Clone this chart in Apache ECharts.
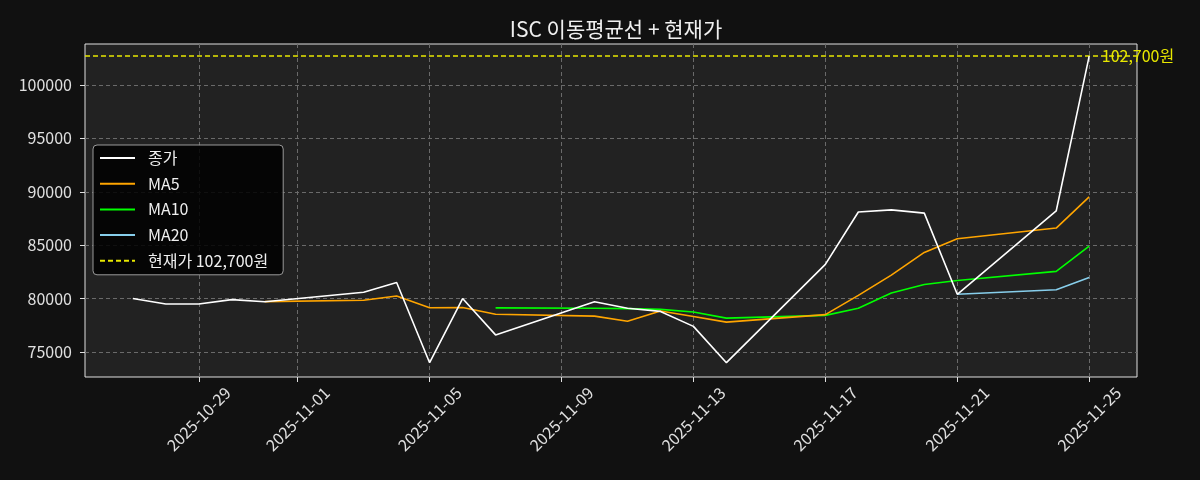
<!DOCTYPE html>
<html>
<head>
<meta charset="utf-8">
<script src="https://cdn.jsdelivr.net/npm/echarts@6/dist/echarts.min.js"></script>
<style>
html,body{margin:0;padding:0;background:#111111;}
#chart{width:1200px;height:480px;}
</style>
</head>
<body>
<div id="chart"></div>
<script>
const dates = ['2025-10-27','2025-10-28','2025-10-29','2025-10-30','2025-10-31',
  '2025-11-03','2025-11-04','2025-11-05','2025-11-06','2025-11-07',
  '2025-11-10','2025-11-11','2025-11-12','2025-11-13','2025-11-14',
  '2025-11-17','2025-11-18','2025-11-19','2025-11-20','2025-11-21',
  '2025-11-24','2025-11-25'];
const close = [80000,79500,79500,79900,79700,80600,81500,74000,80000,76600,
  79700,79100,78800,77400,74000,83200,88100,88300,88000,80400,88200,102700];
const ma5 = [null,null,null,null,79720,79840,80240,79140,79160,78540,
  78360,77880,78840,78320,77800,78500,80300,82200,84320,85600,86600,89520];
const ma10 = [null,null,null,null,null,null,null,null,null,79130,
  79100,79060,78990,78740,78170,78430,79090,80520,81320,81700,82550,84910];
const ma20 = [null,null,null,null,null,null,null,null,null,null,
  null,null,null,null,null,null,null,null,null,80410,80820,81980];
const currentPrice = 102700;
const xTickLabels = ['2025-10-29','2025-11-01','2025-11-05','2025-11-09','2025-11-13','2025-11-17','2025-11-21','2025-11-25'];
const yTickValues = [75000,80000,85000,90000,95000,100000];

function ts(s){ const p = s.split('-').map(Number); return Date.UTC(p[0], p[1]-1, p[2]); }
function pad(n){ return (n<10?'0':'')+n; }
function fmt(v){ const d = new Date(Math.round(v)); return d.getUTCFullYear()+'-'+pad(d.getUTCMonth()+1)+'-'+pad(d.getUTCDate()); }
function pairs(arr){ const out=[]; arr.forEach((v,i)=>{ if(v!==null) out.push([ts(dates[i]), v]); }); return out; }

const x0 = ts(dates[0]), x1 = ts(dates[dates.length-1]);
const xpad = (x1-x0)*0.05;
const FONT = '"Noto Sans CJK KR", "Noto Sans", sans-serif';

const chart = echarts.init(document.getElementById('chart'), null, {renderer:'canvas'});
const lineBase = {type:'line', symbol:'none', showSymbol:false, emphasis:{disabled:true}, animation:false};
chart.setOption({
  backgroundColor:'#111111',
  animation:false,
  textStyle:{fontFamily:FONT},
  title:{text:'ISC 이동평균선 + 현재가', left:611, textAlign:'center', top:14,
    textStyle:{color:'#f0f0f0', fontSize:21, fontWeight:'normal', fontFamily:FONT}},
  grid:{left:85, right:63, top:44, bottom:103, show:true, backgroundColor:'#222222', borderColor:'#e0e0e0', borderWidth:1},
  legend:{orient:'vertical', left:93, top:145, backgroundColor:'rgba(0,0,0,0.85)', borderColor:'#9a9a9a', borderWidth:1,
    borderRadius:4, padding:[5,15,6,6], itemWidth:35, itemHeight:16, itemGap:9.7,
    itemStyle:{color:'rgba(0,0,0,0)', borderWidth:0, opacity:0},
    textStyle:{color:'#f0f0f0', fontSize:16, fontFamily:FONT, padding:[0,0,0,8]},
    data:['종가','MA5','MA10','MA20','현재가 102,700원']},
  xAxis:{type:'value', min:x0-xpad, max:x1+xpad, scale:true,
    axisLine:{show:false},
    axisTick:{show:true, length:5, lineStyle:{color:'#e0e0e0'}, customValues:xTickLabels.map(ts)},
    axisLabel:{color:'#e0e0e0', fontSize:16, fontFamily:FONT, rotate:45, align:'center', verticalAlign:'middle', margin:42,
      customValues:xTickLabels.map(ts), formatter:(v)=>fmt(v), hideOverlap:false, showMinLabel:true, showMaxLabel:true},
    splitLine:{show:true, lineStyle:{color:'#6a6a6a', type:[4,3], width:1}}},
  yAxis:{type:'value', min:72660, max:103830, scale:true,
    axisLine:{show:false},
    axisTick:{show:true, length:5, lineStyle:{color:'#e0e0e0'}, customValues:yTickValues},
    axisLabel:{color:'#e0e0e0', fontSize:16, fontFamily:FONT, margin:13, customValues:yTickValues, formatter:(v)=>String(v)},
    splitLine:{show:true, lineStyle:{color:'#6a6a6a', type:[4,3], width:1}}},
  series:[
    Object.assign({}, lineBase, {name:'종가', data:pairs(close), color:'#ffffff', lineStyle:{width:1.6, color:'#ffffff'}, z:5}),
    Object.assign({}, lineBase, {name:'MA5', data:pairs(ma5), color:'#ffa500', lineStyle:{width:1.6, color:'#ffa500'}, z:4}),
    Object.assign({}, lineBase, {name:'MA10', data:pairs(ma10), color:'#00ff00', lineStyle:{width:1.6, color:'#00ff00'}, z:3}),
    Object.assign({}, lineBase, {name:'MA20', data:pairs(ma20), color:'#87ceeb', lineStyle:{width:1.6, color:'#87ceeb'}, z:2}),
    Object.assign({}, lineBase, {name:'현재가 102,700원', data:[], color:'#e8e800',
      lineStyle:{width:1.5, color:'#e8e800', type:[5,3]}, z:6,
      markLine:{silent:true, symbol:['none','none'], animation:false,
        lineStyle:{color:'#e8e800', type:[5,3], width:1.5},
        label:{show:false},
        data:[{yAxis:currentPrice}]},
      markPoint:{silent:true, symbol:'circle', symbolSize:0, animation:false,
        label:{show:true, position:'right', distance:9, color:'#e8e800', fontSize:16, fontFamily:FONT,
          formatter:()=>' '+currentPrice.toLocaleString('en-US')+'원'},
        data:[{coord:[x1, currentPrice]}]}})
  ]
});
</script>
</body>
</html>
